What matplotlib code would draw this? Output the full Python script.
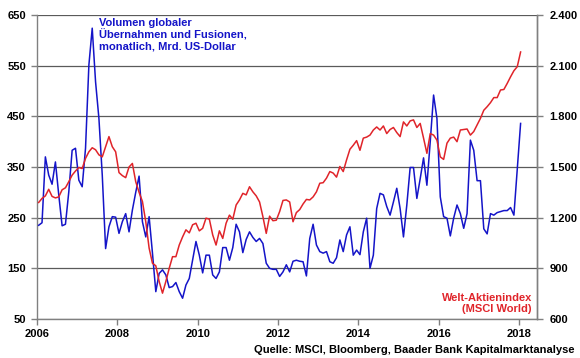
import numpy as np
import matplotlib
matplotlib.use("Agg")
import matplotlib.pyplot as plt
from matplotlib.ticker import FixedLocator

plt.rcParams['font.family'] = ['Liberation Sans', 'DejaVu Sans']
plt.rcParams['font.weight'] = 'bold'

# ---- data (monthly, Jan 2006 .. Jan 2018) ----
start_year = 2006
ma_volume = [235, 240, 370, 334, 316, 360, 295, 234, 237, 301, 383, 387,
             324, 311, 387, 551, 624, 518, 446, 334, 189, 232, 252, 251,
             219, 242, 258, 222, 265, 300, 332, 242, 212, 252, 180, 104,
             140, 147, 137, 112, 114, 122, 104, 91, 117, 130, 166, 203,
             176, 141, 176, 176, 137, 130, 143, 191, 191, 166, 191, 237,
             222, 181, 207, 222, 211, 203, 209, 199, 160, 150, 148, 148,
             134, 143, 157, 143, 164, 166, 164, 163, 135, 209, 237, 196,
             183, 180, 183, 163, 160, 171, 206, 183, 216, 232, 176, 186,
             177, 222, 249, 150, 176, 268, 298, 295, 272, 255, 281, 308,
             268, 212, 275, 349, 349, 288, 327, 368, 314, 400, 492, 446,
             291, 252, 249, 214, 249, 275, 258, 229, 258, 403, 383, 323,
             323, 228, 218, 258, 255, 260, 262, 264, 264, 270, 255, 347,
             436]
msci_world = [1290, 1314, 1329, 1368, 1326, 1317, 1323, 1365, 1377, 1413, 1452, 1476,
              1497, 1491, 1551, 1590, 1614, 1602, 1572, 1560, 1620, 1680, 1620, 1590,
              1467, 1449, 1437, 1500, 1521, 1413, 1350, 1296, 1176, 1020, 930, 915,
              822, 753, 822, 900, 969, 969, 1038, 1086, 1128, 1110, 1158, 1167,
              1122, 1137, 1197, 1191, 1098, 1038, 1122, 1077, 1167, 1215, 1191, 1275,
              1305, 1344, 1335, 1383, 1353, 1329, 1293, 1206, 1107, 1209, 1182, 1185,
              1236, 1302, 1305, 1293, 1176, 1230, 1248, 1281, 1308, 1305, 1323, 1353,
              1404, 1407, 1434, 1473, 1464, 1440, 1503, 1473, 1542, 1605, 1629, 1656,
              1599, 1671, 1677, 1689, 1719, 1737, 1719, 1743, 1698, 1722, 1734, 1704,
              1680, 1767, 1743, 1773, 1779, 1734, 1758, 1671, 1581, 1698, 1689, 1659,
              1560, 1545, 1641, 1671, 1677, 1650, 1719, 1722, 1725, 1689, 1710, 1749,
              1788, 1836, 1857, 1881, 1911, 1911, 1956, 1959, 1995, 2034, 2070, 2094,
              2181]
x_ticks = [2006, 2008, 2010, 2012, 2014, 2016, 2018]
left_ticks = [50, 150, 250, 350, 450, 550, 650]
right_ticks = [600, 900, 1200, 1500, 1800, 2100, 2400]
right_labels = ['600', '900', '1.200', '1.500', '1.800', '2.100', '2.400']

blue = '#1414c8'
red = '#e0242a'
grid_c = '#5a5a5a'

t = start_year + (np.arange(len(ma_volume)) + 0.5) / 12.0

fig = plt.figure(figsize=(5.8, 3.58), dpi=100)
ax = fig.add_axes([37/580, 1-319/358, (537-37)/580, (319-15)/358])
ax2 = ax.twinx()

ax.plot(t, ma_volume, color=blue, lw=1.1, zorder=3)
ax2.plot(t, msci_world, color=red, lw=1.1, zorder=2)

ax.set_xlim(2006, 2018.45)
ax.set_ylim(50, 650)
ax2.set_ylim(600, 2400)

ax.xaxis.set_major_locator(FixedLocator(x_ticks))
ax.set_xticklabels([str(v) for v in x_ticks])
ax.yaxis.set_major_locator(FixedLocator(left_ticks))
ax2.yaxis.set_major_locator(FixedLocator(right_ticks))
ax2.set_yticklabels(right_labels)

ax.grid(axis='y', color=grid_c, lw=0.9)
ax.set_axisbelow(True)

for a in (ax, ax2):
    a.spines['top'].set_visible(False)
    for s in ('left', 'right', 'bottom'):
        a.spines[s].set_color('#808080')
        a.spines[s].set_linewidth(1.0)
ax2.spines['left'].set_visible(False)
ax2.spines['bottom'].set_visible(False)

ax.tick_params(axis='both', labelsize=8, colors='#808080', labelcolor='black',
               direction='out', length=4, width=1)
ax.tick_params(axis='y', pad=4)
ax.tick_params(axis='x', pad=3)
ax2.tick_params(axis='y', labelsize=8, colors='#808080', labelcolor='black',
                direction='out', length=4, width=1, pad=5)
for lab in ax.get_xticklabels() + ax.get_yticklabels() + ax2.get_yticklabels():
    lab.set_fontweight('bold')

fig.text(99/580, 1-18/358, 'Volumen globaler\nÜbernahmen und Fusionen,\nmonatlich, Mrd. US-Dollar',
         color=blue, fontsize=8, fontweight='bold', ha='left', va='top', linespacing=1.1)
fig.text(532/580, 1-303.5/358, 'Welt-Aktienindex\n(MSCI World)', color=red,
         fontsize=8, fontweight='bold', ha='right', va='center', multialignment='right',
         linespacing=1.05)
fig.text(575/580, 1-350/358, 'Quelle: MSCI, Bloomberg, Baader Bank Kapitalmarktanalyse',
         color='black', fontsize=8, fontweight='bold', ha='right', va='center')

fig.savefig('out.png', dpi=100)
